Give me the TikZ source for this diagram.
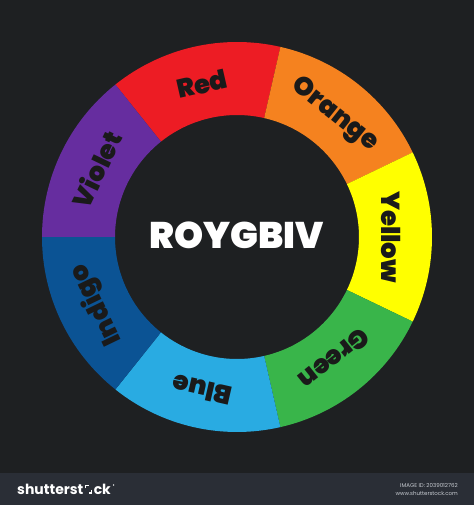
\documentclass[tikz,border=0pt]{standalone}
\usepackage{fontspec}
\setsansfont{Poppins}
\renewcommand{\familydefault}{\sfdefault}
\IfFontExistsTF{Poppins Black}
  {\newfontfamily\heavyfont{Poppins Black}}
  {\newfontfamily\heavyfont{Poppins}[UprightFont=* Bold, FakeBold=1.2]}
\definecolor{bgc}{HTML}{1E2022}
\definecolor{barc}{HTML}{2A2E36}
\definecolor{cRed}{HTML}{ED1C24}
\definecolor{cOrange}{HTML}{F5821F}
\definecolor{cYellow}{HTML}{FFFF00}
\definecolor{cGreen}{HTML}{39B54A}
\definecolor{cBlue}{HTML}{29ABE2}
\definecolor{cIndigo}{HTML}{0B5394}
\definecolor{cViolet}{HTML}{662D9F}
\definecolor{lblc}{HTML}{1A1A1A}
\definecolor{smallc}{HTML}{C8CCD2}
\tikzset{
  lbl/.style={text=lblc, font=\heavyfont\fontsize{26}{26}\selectfont, inner sep=0pt},
  title/.style={text=white, font=\heavyfont\fontsize{37}{37}\selectfont, inner sep=0pt},
  logo/.style={text=white, font=\fontsize{14}{14}\selectfont\bfseries, inner sep=0pt},
  tiny/.style={text=smallc, font=\fontsize{5.5}{6}\selectfont, inner sep=0pt}
}
\begin{document}
\begin{tikzpicture}[x=1pt,y=1pt]
\useasboundingbox (0,0) rectangle (474,505);
\fill[bgc] (0,0) rectangle (474,505);
\fill[barc] (0,0) rectangle (474,32);
\begin{scope}[shift={(237,268)}]
  \foreach \a/\b/\c in {77.143/128.571/cRed, 25.714/77.143/cOrange, -25.714/25.714/cYellow,
      -77.143/-25.714/cGreen, -128.571/-77.143/cBlue, -180/-128.571/cIndigo, 128.571/180/cViolet}{
    \fill[\c] (\a:195) arc[start angle=\a, end angle=\b, radius=195]
       -- (\b:122) arc[start angle=\b, end angle=\a, radius=122] -- cycle;
  }
  \node[lbl, rotate=12.857] (lRed) at (102.857:157) {Red};
  \node[lbl, rotate=-38.571] (lOrange) at (51.429:156) {Orange};
  \node[lbl, rotate=-90] (lYellow) at (0:154) {Yellow};
  \node[lbl, rotate=-141.429] (lGreen) at (-51.429:156) {Green};
  \node[lbl, rotate=-192.857] (lBlue) at (-102.857:157) {Blue};
  \node[lbl, rotate=115.714] (lIndigo) at (-154.286:156) {Indigo};
  \node[lbl, rotate=64.286] (lViolet) at (154.286:156) {Violet};
  \node[title] (ttl) at (0,2) {ROYGBIV};
\end{scope}
\node[logo, anchor=west] (logoA) at (17,16) {shutterst};
\coordinate (ico) at ([xshift=5pt]logoA.east);
\draw[white, line width=1.5pt] ([shift={(-3,0.5)}]ico) -- ([shift={(-3,3.5)}]ico) -- ([shift={(0,3.5)}]ico);
\draw[white, line width=1.5pt] ([shift={(3,-1)}]ico) -- ([shift={(3,-4)}]ico) -- ([shift={(0,-4)}]ico);
\node[logo, anchor=west] (logoB) at ([xshift=10pt]logoA.east) {ck};
\fill[white] ([shift={(2.5,4)}]logoB.east) circle (0.8);
\node[tiny, anchor=east] (imgid) at (458,20) {IMAGE ID: 2039012762};
\node[tiny, anchor=east] (www) at (458,12) {www.shutterstock.com};
\end{tikzpicture}
\end{document}
